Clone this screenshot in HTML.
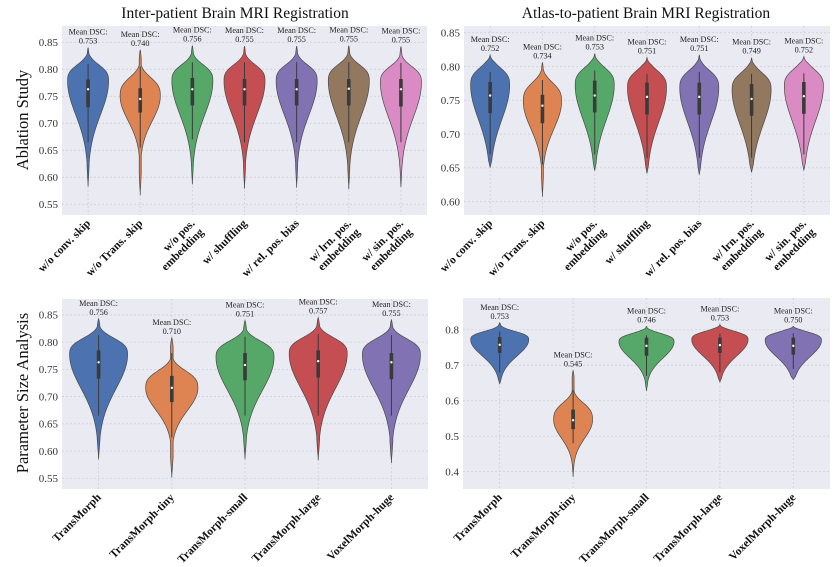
<!DOCTYPE html>
<html><head><meta charset="utf-8"><style>
html,body{margin:0;padding:0;background:#fff;}
svg{display:block;font-family:"Liberation Serif","DejaVu Serif",serif;}
</style></head><body>
<svg id="fig" width="838" height="567" viewBox="0 0 838 567">
<text x="235" y="18" font-size="15.5" text-anchor="middle" fill="#111">Inter-patient Brain MRI Registration</text>
<text x="646" y="18" font-size="15.5" text-anchor="middle" fill="#111">Atlas-to-patient Brain MRI Registration</text>
<text transform="translate(28,120) rotate(-90)" font-size="16.5" text-anchor="middle" fill="#111">Ablation Study</text>
<text transform="translate(28,393) rotate(-90)" font-size="16.5" text-anchor="middle" fill="#111">Parameter Size Analysis</text>
</svg>
<script>
const COLORS = ["#4c72b0","#dd8452","#55a868","#c44e52","#8172b3","#937860","#da8bc3"];

// ---- Top-left: inter-patient ablation ----
const tlCats = ["w/o conv. skip","w/o Trans. skip","w/o pos.|embedding","w/ shuffling","w/ rel. pos. bias","w/ lrn. pos.|embedding","w/ sin. pos.|embedding"];
const tlMeans = [0.753,0.740,0.756,0.755,0.755,0.755,0.755];
const tlMins = [0.583,0.567,0.587,0.579,0.581,0.578,0.582];
const tlMaxs = [0.840,0.836,0.844,0.843,0.843,0.844,0.842];
const tlPeaks = [0.778,0.750,0.778,0.778,0.778,0.778,0.775];
const tlSdUp = [0.028,0.032,0.028,0.028,0.028,0.028,0.028];
const tlSdDown = [0.062,0.045,0.062,0.062,0.062,0.064,0.064];
const tlQ1 = [0.730,0.720,0.733,0.733,0.733,0.733,0.731];
const tlMed = [0.763,0.745,0.763,0.763,0.763,0.764,0.763];
const tlQ3 = [0.781,0.765,0.784,0.782,0.782,0.782,0.782];
const tlWlo = [0.665,0.655,0.670,0.665,0.665,0.665,0.665];
const tlWhi = [0.810,0.805,0.813,0.813,0.813,0.813,0.812];
const tlRelW = [1,0.98,1,1,1,1,1];
const tlTicks = [0.55,0.60,0.65,0.70,0.75,0.80,0.85];
const tlTickLabels = ["0.55","0.60","0.65","0.70","0.75","0.80","0.85"];

// ---- Top-right: atlas-to-patient ablation ----
const trCats = tlCats;
const trMeans = [0.752,0.734,0.753,0.751,0.751,0.749,0.752];
const trMins = [0.651,0.607,0.646,0.642,0.640,0.644,0.647];
const trMaxs = [0.817,0.806,0.819,0.813,0.817,0.813,0.815];
const trPeaks = [0.772,0.748,0.772,0.768,0.768,0.765,0.770];
const trSdUp = [0.024,0.026,0.024,0.024,0.024,0.024,0.024];
const trSdDown = [0.050,0.040,0.050,0.050,0.050,0.050,0.050];
const trQ1 = [0.731,0.716,0.732,0.729,0.729,0.727,0.730];
const trMed = [0.757,0.742,0.757,0.755,0.755,0.752,0.756];
const trQ3 = [0.777,0.758,0.779,0.776,0.776,0.774,0.777];
const trWlo = [0.670,0.655,0.670,0.665,0.665,0.665,0.670];
const trWhi = [0.792,0.780,0.794,0.789,0.792,0.789,0.790];
const trRelW = [1,0.98,1,1,1,1,1];
const trTicks = [0.60,0.65,0.70,0.75,0.80,0.85];
const trTickLabels = ["0.60","0.65","0.70","0.75","0.80","0.85"];

// ---- Bottom-left: inter-patient parameter size ----
const blCats = ["TransMorph","TransMorph-tiny","TransMorph-small","TransMorph-large","VoxelMorph-huge"];
const blMeans = [0.756,0.710,0.751,0.757,0.755];
const blMins = [0.585,0.551,0.585,0.583,0.578];
const blMaxs = [0.843,0.808,0.840,0.845,0.841];
const blPeaks = [0.777,0.715,0.772,0.778,0.776];
const blSdUp = [0.028,0.030,0.028,0.028,0.028];
const blSdDown = [0.062,0.040,0.060,0.062,0.062];
const blQ1 = [0.733,0.690,0.730,0.735,0.732];
const blMed = [0.763,0.716,0.758,0.765,0.763];
const blQ3 = [0.785,0.738,0.780,0.785,0.780];
const blWlo = [0.665,0.625,0.665,0.665,0.665];
const blWhi = [0.813,0.780,0.810,0.815,0.813];
const blRelW = [1,0.9,1,1,1];
const blTicks = tlTicks;
const blTickLabels = tlTickLabels;

// ---- Bottom-right: atlas-to-patient parameter size ----
const brCats = blCats;
const brMeans = [0.753,0.545,0.746,0.753,0.750];
const brMins = [0.648,0.385,0.628,0.653,0.660];
const brMaxs = [0.820,0.685,0.810,0.815,0.810];
const brPeaks = [0.772,0.545,0.766,0.772,0.770];
const brSdUp = [0.022,0.045,0.022,0.022,0.022];
const brSdDown = [0.045,0.050,0.045,0.045,0.045];
const brQ1 = [0.735,0.520,0.727,0.735,0.730];
const brMed = [0.758,0.545,0.755,0.757,0.755];
const brQ3 = [0.780,0.575,0.778,0.778,0.778];
const brWlo = [0.680,0.480,0.670,0.680,0.690];
const brWhi = [0.795,0.630,0.785,0.790,0.790];
const brRelW = [1,0.67,0.95,0.97,0.97];
const brTicks = [0.4,0.5,0.6,0.7,0.8];
const brTickLabels = ["0.4","0.5","0.6","0.7","0.8"];

const NS = "http://www.w3.org/2000/svg";
const svg = document.getElementById("fig");
function mk(tag, attrs, parent){
  const e = document.createElementNS(NS, tag);
  for (const k in attrs) e.setAttribute(k, attrs[k]);
  (parent||svg).appendChild(e);
  return e;
}

function drawPanel(p){
  const g = mk("g", {});
  
  
  const y = v => p.bottom - (v - p.vmin) / (p.vmax - p.vmin) * (p.bottom - p.top);
  const n = p.cats.length;
  const step = (p.right - p.left) / n;
  const xc = i => p.left + step * (i + 0.5);
  const bg = mk("rect", {x:p.left, y:p.top, width:p.right-p.left, height:p.bottom-p.top, fill:"#eaeaf2"}, g);
  
  
  p.ticks.forEach((t, k) => {
    const gl = mk("line", {x1:p.left, x2:p.right, y1:y(t), y2:y(t), stroke:"#cfcfd6", "stroke-width":0.8, "stroke-dasharray":"2,2"}, g);
    
    
    const tl = mk("text", {x:p.left-4, y:y(t)+3.8, "font-size":11, "text-anchor":"end", fill:"#333"}, g);
    tl.textContent = p.tickLabels[k];
    
    
  });
  for (let i = 0; i < n; i++){
    const vg = mk("line", {x1:xc(i), x2:xc(i), y1:p.top, y2:p.bottom, stroke:"#cfcfd6", "stroke-width":0.8, "stroke-dasharray":"2,2"}, g);
    
    
  }
  for (let i = 0; i < n; i++){
    const cx = xc(i);
    const lo = p.mins[i], hi = p.maxs[i], pk = p.peaks[i];
    const dens = v => {
      const s = v > pk ? p.sdUp[i] : p.sdDown[i];
      const z = Math.abs(v - pk) / s;
      const pw = v > pk ? 3 : 2;
      let d = Math.exp(-0.5 * Math.pow(z, pw));
      const r = (hi - lo);
      const tEnd = Math.min(1, (v - lo) / (0.06 * r), (hi - v) / (0.06 * r));
      d = Math.max(d, 0.05 * Math.min(1, (v - lo) / (0.15 * r)));
      return d * Math.pow(Math.max(tEnd, 0), 0.7);
    };
    const N = 120;
    const hw = p.halfW * p.relW[i];
    const right = [], left = [];
    for (let k = 0; k <= N; k++){
      const v = lo + (hi - lo) * k / N;
      const w = dens(v) * hw;
      right.push((cx + w).toFixed(2) + "," + y(v).toFixed(2));
      left.unshift((cx - w).toFixed(2) + "," + y(v).toFixed(2));
    }
    const vp = mk("polygon", {points: right.concat(left).join(" "), fill:COLORS[i], stroke:"#4a4a4a", "stroke-width":0.7}, g);
    
    
    const wh = mk("line", {x1:cx, x2:cx, y1:y(p.wlo[i]), y2:y(p.whi[i]), stroke:"#3a3a3a", "stroke-width":1}, g);
    
    
    const bx = mk("rect", {x:cx-1.8, width:3.6, y:y(p.q3[i]), height:y(p.q1[i])-y(p.q3[i]), fill:"#3a3a3a"}, g);
    
    
    const md = mk("circle", {cx:cx, cy:y(p.med[i]), r:1.2, fill:"#fff"}, g);
    
    
    const ly = y(hi) - 4;
    const l1 = mk("text", {x:cx, y:ly-9, "font-size":8.2, "text-anchor":"middle", fill:"#222"}, g);
    l1.textContent = "Mean DSC:";
    
    
    const l2 = mk("text", {x:cx, y:ly, "font-size":8.2, "text-anchor":"middle", fill:"#222"}, g);
    l2.textContent = p.means[i].toFixed(3);
    
    
    const parts = p.cats[i].split("|");
    const xt = mk("text", {transform:"translate(" + (cx+3) + "," + (p.bottom+9) + ") rotate(-45)", "font-size":11.5, "font-weight":"bold", "text-anchor":"end", fill:"#111"}, g);
    
    
    parts.forEach((s, j) => {
      const ts = mk("tspan", {x:0, dy: j === 0 ? 0 : 12.5}, xt);
      ts.textContent = s;
    });
  }
}

drawPanel({name:"panel-inter-ablation", left:62, right:427, top:26, bottom:215, vmin:0.5302, vmax:0.8802, halfW:20.5,
  cats:tlCats, means:tlMeans, mins:tlMins, maxs:tlMaxs, peaks:tlPeaks, sdUp:tlSdUp, sdDown:tlSdDown,
  q1:tlQ1, med:tlMed, q3:tlQ3, wlo:tlWlo, whi:tlWhi, relW:tlRelW, ticks:tlTicks, tickLabels:tlTickLabels});
drawPanel({name:"panel-atlas-ablation", left:464, right:830, top:26, bottom:215, vmin:0.5802, vmax:0.8599, halfW:19.5,
  cats:trCats, means:trMeans, mins:trMins, maxs:trMaxs, peaks:trPeaks, sdUp:trSdUp, sdDown:trSdDown,
  q1:trQ1, med:trMed, q3:trQ3, wlo:trWlo, whi:trWhi, relW:trRelW, ticks:trTicks, tickLabels:trTickLabels});
drawPanel({name:"panel-inter-params", left:62, right:428, top:299, bottom:489, vmin:0.5302, vmax:0.8793, halfW:29,
  cats:blCats, means:blMeans, mins:blMins, maxs:blMaxs, peaks:blPeaks, sdUp:blSdUp, sdDown:blSdDown,
  q1:blQ1, med:blMed, q3:blQ3, wlo:blWlo, whi:blWhi, relW:blRelW, ticks:blTicks, tickLabels:blTickLabels});
drawPanel({name:"panel-atlas-params", left:463, right:830, top:298, bottom:489, vmin:0.351, vmax:0.890, halfW:29,
  cats:brCats, means:brMeans, mins:brMins, maxs:brMaxs, peaks:brPeaks, sdUp:brSdUp, sdDown:brSdDown,
  q1:brQ1, med:brMed, q3:brQ3, wlo:brWlo, whi:brWhi, relW:brRelW, ticks:brTicks, tickLabels:brTickLabels});
</script>
</body></html>
